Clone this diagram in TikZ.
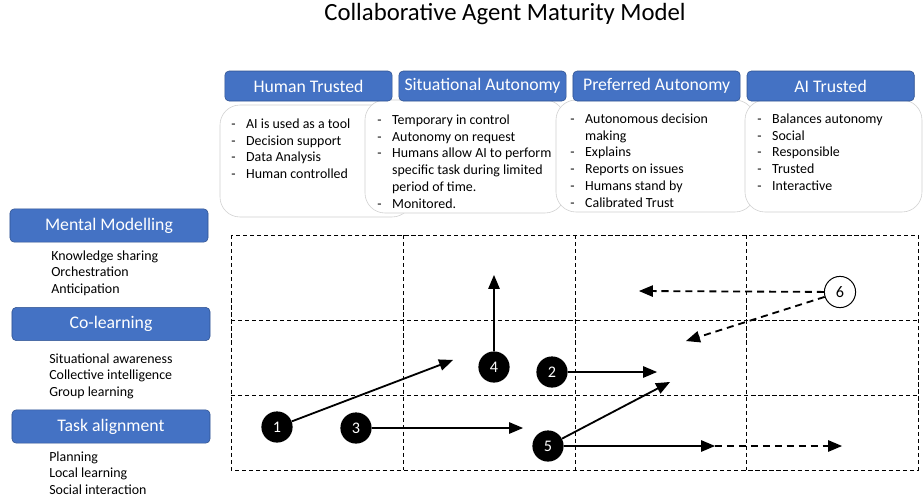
\documentclass[tikz,border=0pt]{standalone}
\usepackage{fontspec}
\setmainfont{Carlito}
\usetikzlibrary{arrows}
\definecolor{hdrblue}{HTML}{4472C4}
\definecolor{hdrborder}{HTML}{2F528F}
\definecolor{cloudgray}{HTML}{CFCFCF}
\tikzstyle{header} = [rectangle, rounded corners=3pt, minimum width=4.18cm, minimum height=0.75cm, text centered, draw=hdrborder, fill=hdrblue, text=white, font=\fontsize{12.6}{14}\selectfont]
\tikzstyle{rowhead} = [header, minimum width=4.95cm, minimum height=0.83cm]
\tikzstyle{cloud} = [draw=cloudgray, fill=white, rounded corners=0.5cm]
\tikzstyle{list} = [inner sep=0pt, anchor=base west, font=\fontsize{9.9}{11.9}\selectfont]
\tikzstyle{cellline} = [line width=0.7pt, dash pattern=on 3pt off 2pt]
\tikzstyle{numdot} = [circle, fill=black, text=white, minimum size=0.78cm, inner sep=0pt, font=\fontsize{11.5}{13}\selectfont]
\tikzstyle{opendot} = [numdot, draw=black, fill=white, text=black, line width=0.7pt]
\tikzstyle{arrow} = [line width=1.3pt, -triangle 45]
\tikzstyle{dasharrow} = [arrow, dash pattern=on 5pt off 3.5pt]

\begin{document}
\begin{tikzpicture}[x=0.025cm, y=-0.025cm]
    \useasboundingbox (0,0) rectangle (923,502);

    \node (title) at (505,14) {\fontsize{17.6}{20}\selectfont Collaborative Agent Maturity Model};

    % description clouds under the columns
    \draw [cloud] (220,105) rectangle (412,217);
    \draw [cloud] (365,100) rectangle (565,213);
    \draw [cloud] (556,100) rectangle (755,212);
    \draw [cloud] (745,100) rectangle (922,212);

    % column headers
    \node (hum) [header] at (308.5,86) {Human Trusted};
    \node (sit) [header, right of=hum, node distance=4.35cm] {Situational Autonomy};
    \node (pref) [header, right of=sit, node distance=4.35cm] {Preferred Autonomy};
    \node (ait) [header, right of=pref, node distance=4.35cm] {AI Trusted};

    \node (humlist) [list] at (231,128.5) {\begin{tabular}[t]{@{}p{10.6pt}@{}l@{}}
        - & AI is used as a tool\\
        - & Decision support\\
        - & Data Analysis\\
        - & Human controlled
    \end{tabular}};
    \node (sitlist) [list] at (377,124.5) {\begin{tabular}[t]{@{}p{10.6pt}@{}l@{}}
        - & Temporary in control\\
        - & Autonomy on request\\
        - & Humans allow AI to perform\\
          & specific task during limited\\
          & period of time.\\
        - & Monitored.
    \end{tabular}};
    \node (preflist) [list] at (570,123.5) {\begin{tabular}[t]{@{}p{10.6pt}@{}l@{}}
        - & Autonomous decision\\
          & making\\
        - & Explains\\
        - & Reports on issues\\
        - & Humans stand by\\
        - & Calibrated Trust
    \end{tabular}};
    \node (aitlist) [list] at (757,123.5) {\begin{tabular}[t]{@{}p{10.6pt}@{}l@{}}
        - & Balances autonomy\\
        - & Social\\
        - & Responsible\\
        - & Trusted\\
        - & Interactive
    \end{tabular}};

    % row headers
    \node (mm) [rowhead] at (109,225.5) {Mental Modelling};
    \node (cl) [rowhead] at (111,324) {Co-learning};
    \node (ta) [rowhead] at (111,426.5) {Task alignment};

    \node (mmlist) [list] at (51,260) {\begin{tabular}[t]{@{}l@{}}
        Knowledge sharing\\ Orchestration\\ Anticipation
    \end{tabular}};
    \node (cllist) [list] at (49,363) {\begin{tabular}[t]{@{}l@{}}
        Situational awareness\\ Collective intelligence\\ Group learning
    \end{tabular}};
    \node (talist) [list] at (49,461) {\begin{tabular}[t]{@{}l@{}}
        Planning\\ Local learning\\ Social interaction
    \end{tabular}};

    % grid
    \draw [cellline] (231,235) rectangle (918,470);
    \foreach \gx in {403,575,746}
        \draw [cellline] (\gx,235) -- (\gx,470);
    \foreach \gy in {320,395}
        \draw [cellline] (231,\gy) -- (918,\gy);

    % steps
    \node (c1) [numdot] at (277,427) {1};
    \node (c2) [numdot] at (552,372) {2};
    \node (c3) [numdot] at (356,428) {3};
    \node (c4) [numdot] at (494,367) {4};
    \node (c5) [numdot] at (548,446) {5};
    \node (c6) [opendot] at (840,292) {6};

    \coordinate (t1) at (453,360);
    \coordinate (t2) at (657,372);
    \coordinate (t3) at (523,428);
    \coordinate (t4) at (494,275);
    \coordinate (t5a) at (670,382);
    \coordinate (m5) at (715,446);
    \coordinate (t5b) at (842,446);
    \coordinate (t6a) at (639,291);
    \coordinate (t6b) at (686,341);

    \draw [arrow] (c1) -- (t1);
    \draw [arrow] (c2) -- (t2);
    \draw [arrow] (c3) -- (t3);
    \draw [arrow] (c4) -- (t4);
    \draw [arrow] (c5) -- (t5a);
    \draw [arrow] (c5) -- (m5);
    \draw [dasharrow] (m5) -- (t5b);
    \draw [dasharrow] (c6) -- (t6a);
    \draw [dasharrow] (c6) -- (t6b);
\end{tikzpicture}
\end{document}
